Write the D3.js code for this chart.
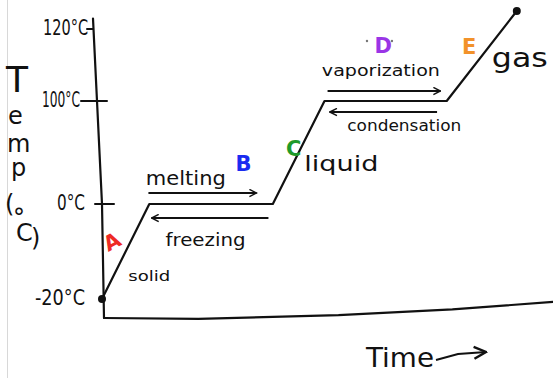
<!DOCTYPE html>
<html>
<head>
<meta charset="utf-8">
<script src="https://cdn.jsdelivr.net/npm/d3@7"></script>
<style>
  html, body { margin: 0; padding: 0; background: #fff; }
  svg { display: block; }
  text { font-family: "DejaVu Sans", sans-serif; }
</style>
</head>
<body>
<svg id="chart" width="553" height="378"></svg>
<script>
// Heating curve of water: temperature against time
const tickTemps  = [-20, 0, 100, 120];
const tickLabels = ["-20°C", "0°C", "100°C", "120°C"];

// Corners of the heating curve (time in arbitrary units, temperature in °C)
const curveTime = [0, 1.08, 3.9, 5.08, 7.87, 9.47];
const curveTemp = [-20, 0, 0, 100, 100, 125];

// Segment letters and the phase names written beside them
const phaseLetters = ["A", "B", "C", "D", "E"];
const phaseColors  = ["#ee2a24", "#1a2bf0", "#1e9a2a", "#9a35e6", "#f2922a"];
const phaseNames   = ["solid", "liquid", "gas"];
const changeNames  = ["melting", "freezing", "vaporization", "condensation"];

const svg = d3.select("#chart");
const W = 553, H = 378;

// Hand-spaced temperature axis: each labelled tick sits where it was marked
const y = d3.scaleLinear().domain([-20, 0, 100, 120]).range([299, 204, 101, 29]);
const x = d3.scaleLinear().domain([0, 10]).range([102, 540]);

const ink = "#111";

// faint frame edge on the left
svg.append("line")
  .attr("x1", 7.5).attr("x2", 7.5).attr("y1", 0).attr("y2", H)
  .attr("stroke", "#d8d8d8").attr("stroke-width", 1);

const line = d3.line().curve(d3.curveLinear);

// y axis (leans slightly, like a hand-drawn stroke)
const x0 = x(0);
svg.append("path")
  .attr("d", line([[x0 - 9, y(124) + 4], [x0 - 5, y(100)], [x0, y(0)], [x0 + 2, y(-24)]]))
  .attr("fill", "none").attr("stroke", ink).attr("stroke-width", 2.2)
  .attr("stroke-linecap", "round").attr("stroke-linejoin", "round");

// x axis
svg.append("path")
  .attr("d", line([[x0 + 2, y(-24)], [x(2.2), y(-24.2)], [x(5.4), y(-23.4)], [x(8), y(-22.2)], [W, y(-20.6)]]))
  .attr("fill", "none").attr("stroke", ink).attr("stroke-width", 2.2)
  .attr("stroke-linecap", "round").attr("stroke-linejoin", "round");

// ticks and tick labels
const tickSpans = [[0, 0], [-7, 12], [-16, 10], [-6, 0]];
const labelRight = [85, 85, 80, 88];
const labelLen = [50, 28, 38, 45];
tickTemps.forEach((t, i) => {
  const axisX = x0 - (t >= 100 ? (t >= 120 ? 9 : 5) : 0);
  if (tickSpans[i][1] !== tickSpans[i][0]) {
    svg.append("line")
      .attr("x1", axisX + tickSpans[i][0]).attr("x2", axisX + tickSpans[i][1])
      .attr("y1", y(t)).attr("y2", y(t))
      .attr("stroke", ink).attr("stroke-width", 2).attr("stroke-linecap", "round");
  }
  svg.append("text")
    .attr("x", labelRight[i] - labelLen[i]).attr("y", y(t))
    .attr("dominant-baseline", "middle")
    .attr("font-size", 21)
    .attr("textLength", labelLen[i]).attr("lengthAdjust", "spacingAndGlyphs")
    .style("fill", ink)
    .text(tickLabels[i]);
});

// heating curve
const pts = curveTime.map((t, i) => [x(t), y(curveTemp[i])]);
svg.append("path")
  .attr("d", line(pts))
  .attr("fill", "none").attr("stroke", ink).attr("stroke-width", 2.2)
  .attr("stroke-linecap", "round").attr("stroke-linejoin", "round");

// end dots
[pts[0], pts[pts.length - 1]].forEach(p => {
  svg.append("circle").attr("cx", p[0]).attr("cy", p[1]).attr("r", 4).attr("fill", ink);
});

// y axis title "Temp (°C)", written letter by letter down the left edge
const titleRest = "emp (°C)";
const restX = [8, 7, 11, 20, 5, 13, 16, 31];
const restY = [124, 152, 176, 176, 212, 226, 241, 246];
const title = svg.append("text").style("fill", ink);
title.append("tspan").attr("x", 6).attr("y", 92).attr("font-size", 36).text("T");
title.append("tspan")
  .attr("x", restX.join(" ")).attr("y", restY.join(" "))
  .attr("font-size", 24)
  .text(titleRest);

// arrow heads
const defs = svg.append("defs");
[["head", 9], ["bighead", 15]].forEach(([id, s]) => {
  defs.append("marker")
    .attr("id", id).attr("viewBox", "0 0 10 10")
    .attr("refX", 9).attr("refY", 5)
    .attr("markerWidth", s).attr("markerHeight", s)
    .attr("markerUnits", "userSpaceOnUse")
    .attr("orient", "auto-start-reverse")
    .append("path").attr("d", "M1,1 L9,5 L1,9")
    .attr("fill", "none").attr("stroke", ink).attr("stroke-width", 1.6);
});

function arrow(xa, xb, yy) {
  svg.append("line")
    .attr("x1", xa).attr("x2", xb).attr("y1", yy).attr("y2", yy)
    .attr("stroke", ink).attr("stroke-width", 2)
    .attr("marker-end", "url(#head)");
}

// phase-change arrows along the two plateaus
arrow(x(1.06), x(3.53), y(0) - 11);   // melting
arrow(x(3.8), x(1.13), y(0) + 14);    // freezing
arrow(x(5.15), x(7.73), y(100) - 10); // vaporization
arrow(x(7.65), x(5.2), y(100) + 11);  // condensation

function label(txt, px, py, size, len, color, rot, weight) {
  const t = svg.append("text")
    .attr("x", px).attr("y", py)
    .attr("font-size", size)
    .style("fill", color || ink)
    .text(txt);
  if (weight) t.attr("font-weight", weight);
  if (len) t.attr("textLength", len).attr("lengthAdjust", "spacingAndGlyphs");
  if (rot) t.attr("transform", `rotate(${rot},${px},${py})`);
  return t;
}

// phase-change names
label(changeNames[0], x(1.0), y(0) - 19, 19, 80);
label(changeNames[1], x(1.45), y(0) + 42, 18, 80);
label(changeNames[2], x(5.02), y(100) - 25, 15, 118);
label(changeNames[3], x(5.6), y(100) + 30, 15, 114);

// phase names
label(phaseNames[0], x(0.6), y(-20) - 18, 14, 42);
label(phaseNames[1], x(4.62), y(0) - 33, 21, 74);
label(phaseNames[2], x(8.9), y(100) - 34, 26, 56);

// segment letters
const letterPos = [[x(0.14), y(0) + 48, -28], [x(3.05), y(0) - 33, 0], [x(4.2), y(0) - 48, 0],
                   [x(6.22), y(100) - 48, 0], [x(8.22), y(100) - 47, 0]];
phaseLetters.forEach((c, i) => {
  label(c, letterPos[i][0], letterPos[i][1], 21, null, phaseColors[i], letterPos[i][2], "bold");
});

// small dots either side of D
[x(6.05), x(6.62)].forEach(px => {
  svg.append("circle").attr("cx", px).attr("cy", y(100) - 60).attr("r", 1.2).attr("fill", "#777");
});

// time axis title with its arrow
label("Time", 366, 367, 27, 68);
svg.append("path")
  .attr("d", line([[436, 360], [458, 354], [486, 352]]))
  .attr("fill", "none").attr("stroke", ink).attr("stroke-width", 2)
  .attr("marker-end", "url(#bighead)");
</script>
</body>
</html>
